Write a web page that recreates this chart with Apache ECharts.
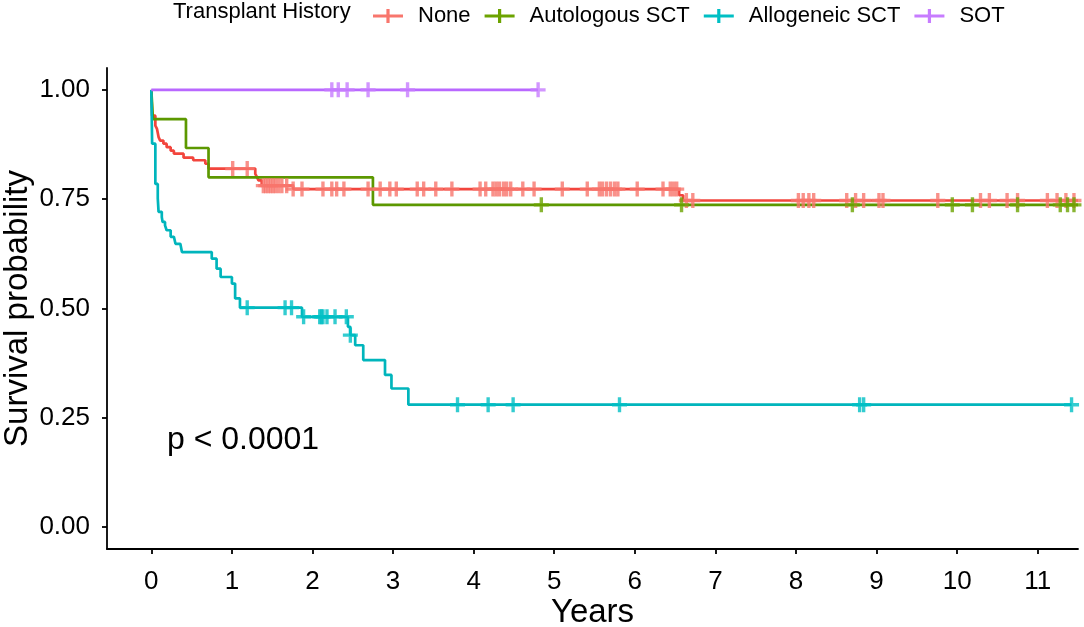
<!DOCTYPE html>
<html>
<head>
<meta charset="utf-8">
<script src="https://cdn.jsdelivr.net/npm/echarts@6/dist/echarts.min.js"></script>
<style>
  html, body { margin: 0; padding: 0; background: #fff; }
  #km_chart { width: 1084px; height: 627px; }
</style>
</head>
<body>
<div id="km_chart"></div>
<script>
// Kaplan-Meier steps: [time in years] and [survival]
const groups = ["None", "Autologous SCT", "Allogeneic SCT", "SOT"];
const lineColors = ["#F2453D", "#5C9800", "#00B5BC", "#B968FF"];
const markColors = ["#F8766D", "#6CA300", "#00BFC4", "#C77CFF"];

const noneTimes = [0, 0.01, 0.05, 0.07, 0.09, 0.11, 0.15, 0.19, 0.24, 0.28, 0.40, 0.52, 0.67, 0.71, 1.29, 1.31, 1.33, 1.37, 1.76, 6.55, 6.60, 11.5];
const noneSurv = [1, 0.941, 0.918, 0.911, 0.892, 0.884, 0.877, 0.869, 0.861, 0.854, 0.845, 0.839, 0.831, 0.820, 0.808, 0.801, 0.793, 0.781, 0.773, 0.759, 0.747, 0.747];
const noneCensor = [1.01, 1.19, 1.39, 1.42, 1.45, 1.48, 1.51, 1.54, 1.58, 1.62, 1.68, 1.76, 1.87, 2.13, 2.24, 2.30, 2.39, 2.69, 2.84, 2.96, 3.04, 3.30, 3.38, 3.53, 3.73, 4.08, 4.15, 4.24, 4.28, 4.32, 4.37, 4.41, 4.46, 4.61, 4.75, 5.10, 5.41, 5.56, 5.60, 5.65, 5.70, 5.75, 5.79, 6.03, 6.35, 6.44, 6.48, 6.52, 6.64, 6.72, 8.03, 8.09, 8.16, 8.22, 8.63, 8.74, 8.84, 9.03, 9.08, 9.76, 10.29, 10.40, 10.62, 10.75, 11.12, 11.24, 11.35, 11.45];

const autoTimes = [0, 0.02, 0.43, 0.71, 2.75, 11.5];
const autoSurv = [1, 0.933, 0.867, 0.800, 0.737, 0.737];
const autoCensor = [4.84, 6.58, 8.70, 9.94, 10.19, 10.75, 11.28, 11.37, 11.45];

const alloTimes = [0, 0.005, 0.01, 0.05, 0.08, 0.09, 0.13, 0.14, 0.17, 0.19, 0.24, 0.28, 0.30, 0.36, 0.38, 0.75, 0.81, 0.86, 1.00, 1.04, 1.10, 1.87, 2.44, 2.47, 2.53, 2.63, 2.90, 2.98, 3.19, 11.42];
const alloSurv = [1, 0.941, 0.877, 0.785, 0.752, 0.721, 0.709, 0.698, 0.690, 0.679, 0.664, 0.660, 0.648, 0.645, 0.629, 0.614, 0.591, 0.572, 0.557, 0.523, 0.502, 0.481, 0.458, 0.439, 0.416, 0.382, 0.348, 0.317, 0.280, 0.280];
const alloCensor = [1.19, 1.66, 1.74, 1.89, 2.09, 2.11, 2.13, 2.18, 2.28, 2.42, 2.47, 3.80, 4.18, 4.49, 5.81, 8.79, 8.84, 11.42];

const sotTimes = [0, 4.80];
const sotSurv = [1, 1];
const sotCensor = [2.24, 2.32, 2.43, 2.69, 3.18, 4.80];

const xTicks = [0, 1, 2, 3, 4, 5, 6, 7, 8, 9, 10, 11];
const yTicks = [0, 0.25, 0.5, 0.75, 1];

const FONT = "'Liberation Sans', Arial, sans-serif";
const PLUS = "path://M6.2,0h3.6v6.2h6.2v3.6h-6.2v6.2h-3.6v-6.2h-6.2v-3.6h6.2z";
const KEY = "path://M0,5.6h30v2.8h-30z M13.4,0h3.2v14h-3.2z";

function survAt(times, surv, t) {
  let s = surv[0];
  for (let i = 0; i < times.length; i++) {
    if (times[i] <= t) s = surv[i];
  }
  return s;
}

const curves = [
  [noneTimes, noneSurv, noneCensor],
  [autoTimes, autoSurv, autoCensor],
  [alloTimes, alloSurv, alloCensor],
  [sotTimes, sotSurv, sotCensor]
];

const series = [];
curves.forEach((c, k) => {
  series.push({
    name: groups[k],
    type: "line",
    step: "end",
    showSymbol: false,
    data: c[0].map((t, i) => [t, c[1][i]]),
    lineStyle: { color: lineColors[k], width: 2.7 },
    itemStyle: { color: lineColors[k] },
    z: 2
  });
  series.push({
    name: groups[k],
    type: "scatter",
    symbol: PLUS,
    symbolSize: 15,
    data: c[2].map(t => [t, survAt(c[0], c[1], t)]),
    itemStyle: { color: markColors[k] },
    z: 3
  });
});

const chart = echarts.init(document.getElementById("km_chart"));
chart.setOption({
  animation: false,
  backgroundColor: "#fff",
  textStyle: { fontFamily: FONT },
  grid: { left: 107, right: 6, top: 68, bottom: 78, containLabel: false, outerBoundsMode: "none" },
  legend: {
    top: 0,
    left: 368,
    itemWidth: 30,
    itemHeight: 14,
    itemGap: 14,
    selectedMode: false,
    textStyle: { fontSize: 22, color: "#000", fontFamily: FONT, padding: [0, 0, 0, 10] },
    data: groups.map((g, k) => ({ name: g, icon: KEY, itemStyle: { color: markColors[k] } }))
  },
  graphic: [
    {
      type: "text", left: 173, top: 1,
      style: { text: "Transplant History", font: "22px " + FONT, fill: "#000" }
    },
    {
      type: "text", left: 167, top: 424,
      style: { text: "p < 0.0001", font: "32px " + FONT, fill: "#000" }
    }
  ],
  xAxis: {
    type: "value",
    min: -0.55,
    max: 11.5,
    name: "Years",
    nameLocation: "middle",
    nameGap: 47,
    nameMoveOverlap: false,
    nameTextStyle: { fontSize: 33, color: "#000", fontFamily: FONT },
    axisLine: { onZero: false, lineStyle: { color: "#000", width: 1.8 } },
    axisTick: { customValues: xTicks, length: 5, lineStyle: { color: "#000", width: 1.8 } },
    axisLabel: { customValues: xTicks, fontSize: 26, color: "#000", margin: 20 },
    splitLine: { show: false }
  },
  yAxis: {
    type: "value",
    min: -0.05,
    max: 1.05,
    name: "Survival probability",
    nameLocation: "middle",
    nameGap: 73,
    nameMoveOverlap: false,
    nameTextStyle: { fontSize: 33, color: "#000", fontFamily: FONT },
    axisLine: { show: true, onZero: false, lineStyle: { color: "#000", width: 1.8 } },
    axisTick: { show: true, customValues: yTicks, length: 5, lineStyle: { color: "#000", width: 1.8 } },
    axisLabel: { customValues: yTicks, fontSize: 26, color: "#000", margin: 17, formatter: v => v.toFixed(2) },
    splitLine: { show: false }
  },
  series: series
});
</script>
</body>
</html>
